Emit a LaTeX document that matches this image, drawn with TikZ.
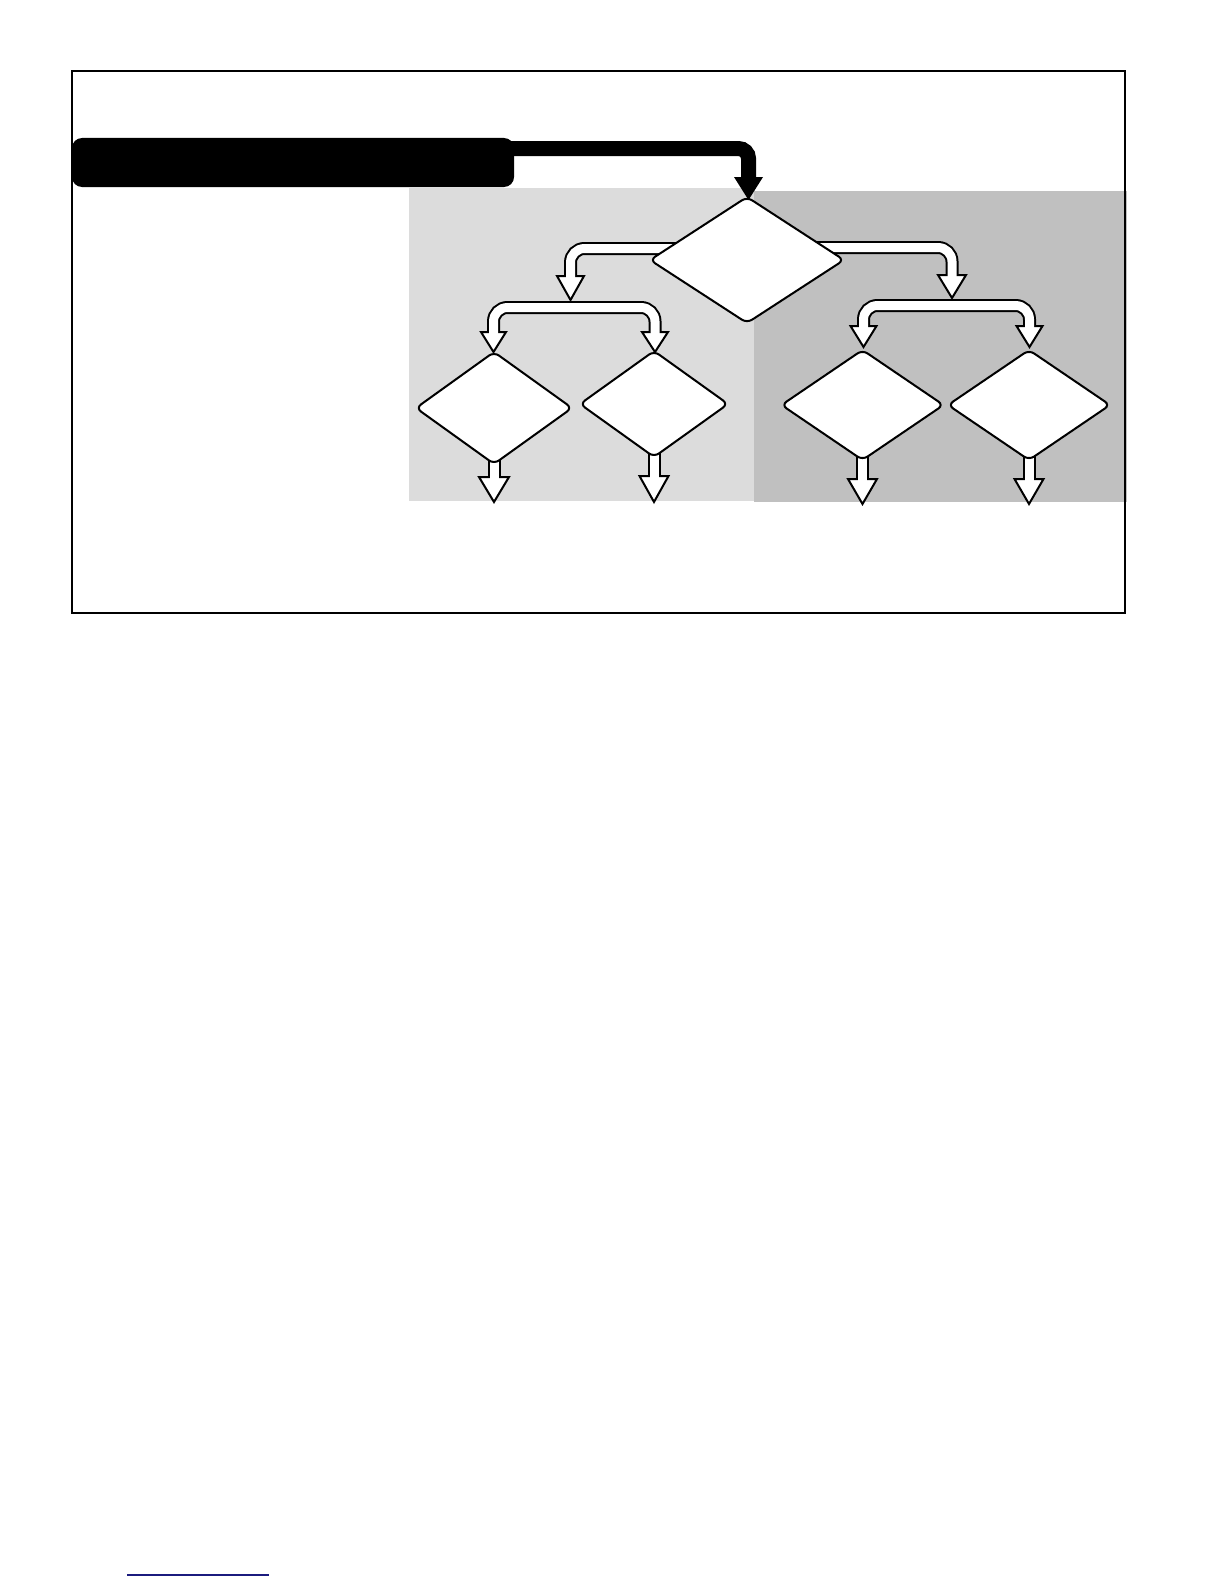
\documentclass[tikz,border=0pt]{standalone}
\usetikzlibrary{shapes.geometric,calc}
\definecolor{lightg}{HTML}{DCDCDC}
\definecolor{darkg}{HTML}{C0C0C0}
\definecolor{navyline}{HTML}{1B1B7E}
\newcommand\headtri[3]{\draw[headst] ($(#1)+(-#3,0)$) -- ($(#1)+(#3,0)$) -- (#2) -- cycle;}
\begin{document}
\begin{tikzpicture}[x=0.5pt,y=-0.5pt,
  dia/.style={diamond, draw=black, fill=white, line width=1pt, inner sep=0pt, outer sep=0pt, rounded corners=3pt},
  shaftout/.style={line width=6.5pt, draw=black, rounded corners=7pt, line cap=butt},
  shaftin/.style={line width=4.5pt, draw=white, rounded corners=7pt, line cap=butt},
  headst/.style={fill=white, draw=black, line width=1pt, line join=miter},
  frame/.style={draw=black, line width=1pt}]
\useasboundingbox (0,0) rectangle (1224,1584);
\fill[white] (0,0) rectangle (1224,1584);
% shaded regions
\fill[lightg] (409,188) rectangle (754,501);
\fill[darkg] (754,191) rectangle (1127,502);
% frame
\draw[frame] (71.5,71.3) rectangle (1125,613);
% black start box
\node[fill=black, rounded corners=5pt, minimum width=221pt, minimum height=24.5pt, inner sep=0pt, outer sep=0pt] (box) at (293,162.5) {};
% diamonds positions (drawn later)
\coordinate (c0) at (747,260);
\coordinate (cLL) at (494,408);
\coordinate (cLR) at (654,404);
\coordinate (cRL) at (862.5,405);
\coordinate (cRR) at (1029,405);
% connector coordinates
\coordinate (m1) at (748.5,148.5);
\coordinate (mb) at (748.5,177);
\coordinate (mt) at (748.5,200);
\coordinate (sL) at (700,248.5);
\coordinate (kL) at (570.5,248.5);
\coordinate (bL) at (570.5,276);
\coordinate (tL) at (570.5,300);
\coordinate (sR) at (800,247.5);
\coordinate (kR) at (952,247.5);
\coordinate (bR) at (952,275);
\coordinate (tR) at (952,298);
\coordinate (bLa) at (493.5,332);
\coordinate (tLa) at (493.5,352);
\coordinate (bLb) at (655,332);
\coordinate (tLb) at (655,352);
\coordinate (bRa) at (863.5,326);
\coordinate (tRa) at (863.5,347);
\coordinate (bRb) at (1029.5,326);
\coordinate (tRb) at (1029.5,347);
\coordinate (dLLb) at (494,477);
\coordinate (dLLt) at (494,502);
\coordinate (dLRb) at (654,476);
\coordinate (dLRt) at (654,502);
\coordinate (dRLb) at (862.5,479);
\coordinate (dRLt) at (862.5,504);
\coordinate (dRRb) at (1029,479);
\coordinate (dRRt) at (1029,504);
% main black connector
\draw[line width=7.5pt, rounded corners=5pt, line cap=butt] ($(box.east)+(-14,-14)$) -- (m1) -- ($(mb)+(0,1)$);
\fill[black] ($(mb)+(-14.5,0)$) -- ($(mb)+(14.5,0)$) -- (mt) -- cycle;
% hollow connectors: outlines
\draw[shaftout] (sL) -- (kL) -- (bL);
\draw[shaftout] (sR) -- (kR) -- (bR);
\draw[shaftout] (bLa) -- (bLa |- 0,307.5) -- (bLb |- 0,307.5) -- (bLb);
\draw[shaftout] (bRa) -- (bRa |- 0,305.5) -- (bRb |- 0,305.5) -- (bRb);
\draw[shaftout] (cLL) -- (dLLb);
\draw[shaftout] (cLR) -- (dLRb);
\draw[shaftout] (cRL) -- (dRLb);
\draw[shaftout] (cRR) -- (dRRb);
% heads
\headtri{bL}{tL}{13.5}
\headtri{bR}{tR}{14}
\headtri{bLa}{tLa}{12.5}
\headtri{bLb}{tLb}{13}
\headtri{bRa}{tRa}{13}
\headtri{bRb}{tRb}{13}
\headtri{dLLb}{dLLt}{15}
\headtri{dLRb}{dLRt}{14.5}
\headtri{dRLb}{dRLt}{14.5}
\headtri{dRRb}{dRRt}{14.5}
% hollow connectors: white cores
\draw[shaftin, shorten >=-1.5pt] (sL) -- (kL) -- (bL);
\draw[shaftin, shorten >=-1.5pt] (sR) -- (kR) -- (bR);
\draw[shaftin, shorten >=-1.5pt, shorten <=-1.5pt] (bLa) -- (bLa |- 0,307.5) -- (bLb |- 0,307.5) -- (bLb);
\draw[shaftin, shorten >=-1.5pt, shorten <=-1.5pt] (bRa) -- (bRa |- 0,305.5) -- (bRb |- 0,305.5) -- (bRb);
\draw[shaftin, shorten >=-1.5pt] (cLL) -- (dLLb);
\draw[shaftin, shorten >=-1.5pt] (cLR) -- (dLRb);
\draw[shaftin, shorten >=-1.5pt] (cRL) -- (dRLb);
\draw[shaftin, shorten >=-1.5pt] (cRR) -- (dRRb);
% diamonds
\node[dia, minimum width=97pt, minimum height=63pt] (d0) at (c0) {};
\node[dia, minimum width=78pt, minimum height=56pt] (dLL) at (cLL) {};
\node[dia, minimum width=74pt, minimum height=53pt] (dLR) at (cLR) {};
\node[dia, minimum width=81pt, minimum height=55pt] (dRL) at (cRL) {};
\node[dia, minimum width=81pt, minimum height=55pt] (dRR) at (cRR) {};
% link underline at page foot
\draw[navyline, line width=1pt] (127,1575) -- (269,1575);
\end{tikzpicture}
\end{document}
